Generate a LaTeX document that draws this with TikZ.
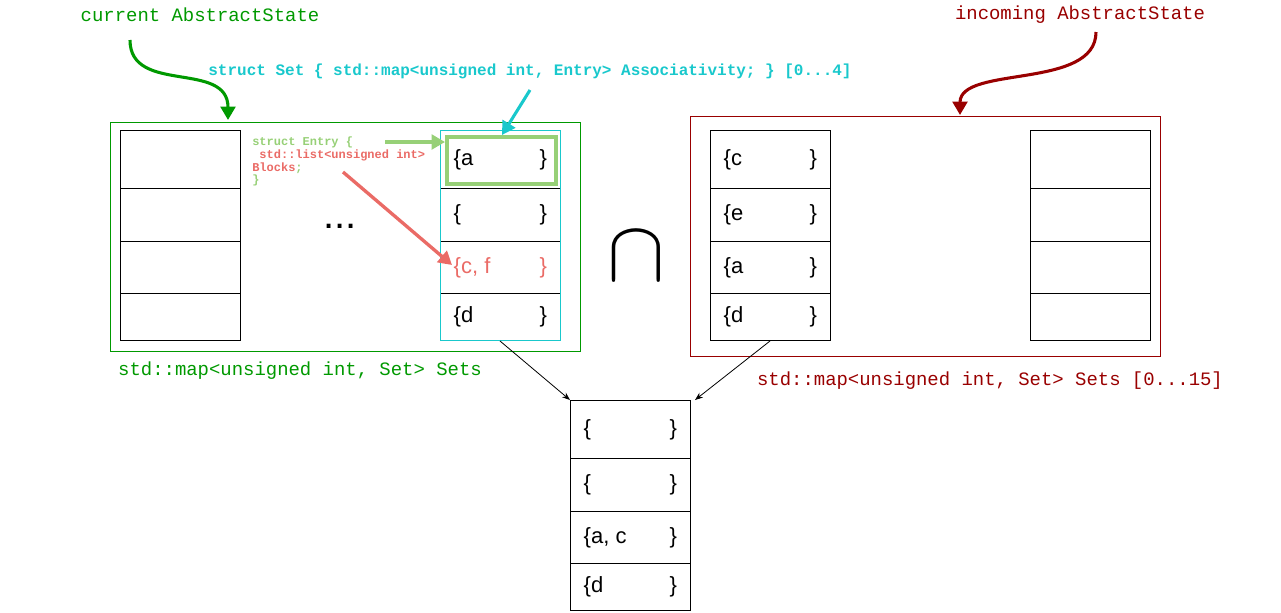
\documentclass[tikz,border=0pt]{standalone}
\usepackage{fontspec}
\setmainfont{Liberation Sans}
\newfontfamily\mono{Liberation Mono}
\usetikzlibrary{arrows.meta}
\definecolor{gr}{HTML}{009900}
\definecolor{dr}{HTML}{990000}
\definecolor{cy}{HTML}{19C8CC}
\definecolor{lg}{HTML}{97D077}
\definecolor{rd}{HTML}{EA6B66}
\newcommand{\cl}[2]{\hbox to 70pt{#1\hfil#2}}
\begin{document}
\begin{tikzpicture}[x=0.75pt,y=-0.75pt,
  cell/.style={draw,line width=0.6pt,minimum width=90pt,inner ysep=0pt,inner xsep=0pt,anchor=north west,font=\fontsize{16.5}{16.5}\selectfont},
  lab/.style={font=\mono\fontsize{14.2}{14}\selectfont},
  blab/.style={font=\mono\bfseries\fontsize{12}{12}\selectfont},
  big/.style={-{Triangle[length=10pt,width=11pt]},line width=2.3pt}]
\useasboundingbox (0,0) rectangle (1281,612);
\node[draw=gr,line width=0.8pt,minimum width=352.5pt,minimum height=171.75pt,anchor=north west,inner sep=0pt] (gf) at (110,122) {};
\node[draw=dr,line width=0.8pt,minimum width=352.5pt,minimum height=180pt,anchor=north west,inner sep=0pt] (rf) at (690,116) {};
\foreach \nm/\x/\y/\a/\b/\c/\d in {L/120/130/{}/{}/{}/{}, C/440/130/{\{a}/{\{}/{\color{rd}\{c, f}/{\{d}, M/710/130/{\{c}/{\{e}/{\{a}/{\{d}, R/1030/130/{}/{}/{}/{}, B/570/400/{\{}/{\{}/{\{a, c}/{\{d}}{
  \node[cell,minimum height=43.5pt] (\nm1) at (\x,\y) {\cl{\a}{\ifx\a\empty\else\}\fi}};
  \node[cell,minimum height=39.75pt] (\nm2) at (\x,\y+58) {\cl{\b}{\ifx\b\empty\else\}\fi}};
  \node[cell,minimum height=39pt] (\nm3) at (\x,\y+111) {\cl{\c}{\ifx\c\empty\else\}\fi}};
  \node[cell,minimum height=35.25pt] (\nm4) at (\x,\y+163) {\cl{\d}{\ifx\d\empty\else\}\fi}};
}
\node[draw=cy,line width=0.8pt,minimum width=90pt,minimum height=157.5pt,anchor=north west,inner sep=0pt] (cf) at (440,130) {};
\node[draw=lg,line width=3pt,minimum width=82pt,minimum height=35pt,anchor=north west,inner sep=0pt] (ge) at (445,135) {};
\node[font=\fontsize{30}{30}\selectfont] (dots) at (340,226) {...};
\node[scale=6.5,line width=0pt] (cap) at (636,256) {$\cap$};
\node[lab,text=gr] (cur) at (200,15) {current AbstractState};
\node[lab,text=dr] (inc) at (1080,15) {incoming AbstractState};
\node[blab,text=cy] (set) at (530,71) {struct Set \{ std::map<unsigned int, Entry> Associativity; \} [0...4]};
\node[lab,text=gr] (gs) at (300,371) {std::map<unsigned int, Set> Sets};
\node[lab,text=dr] (rs) at (990,381) {std::map<unsigned int, Set> Sets [0...15]};
\node[font=\mono\bfseries\fontsize{9}{10}\selectfont,align=left,anchor=north west,inner sep=0pt] (entry) at (252,137)
 {\textcolor{lg}{struct Entry \{}\\[-0.5pt]\textcolor{rd}{\ std::list<unsigned int>}\\[-0.5pt]\textcolor{rd}{Blocks}\textcolor{lg}{;}\\[-0.5pt]\textcolor{lg}{\}}};
\coordinate (g0) at (130,40); \coordinate (g1) at (228,120);
\draw[big,gr] (g0) .. controls (130,95) and (228,60) .. (g1);
\coordinate (r0) at (1096,32); \coordinate (r1) at (960,115);
\draw[big,dr] (r0) .. controls (1096,90) and (960,65) .. (r1);
\coordinate (c0) at (530,90);
\draw[big,cy] (c0) -- (ge.north -| 502,0);
\coordinate (e0) at (385,142);
\draw[big,lg,line width=2.3pt] (e0) -- (ge.west |- 0,142);
\coordinate (b0) at (343,172); \coordinate (b1) at (452,265);
\draw[big,rd,line width=2.5pt] (b0) -- (b1);
\coordinate (a0) at (500,341); \coordinate (a1) at (770,341);
\draw[-{Stealth[length=6pt]},line width=0.6pt] (a0) -- (B1.north west -| 570,394);
\draw[-{Stealth[length=6pt]},line width=0.6pt] (a1) -- (B1.north east -| 695,394);
\end{tikzpicture}
\end{document}
